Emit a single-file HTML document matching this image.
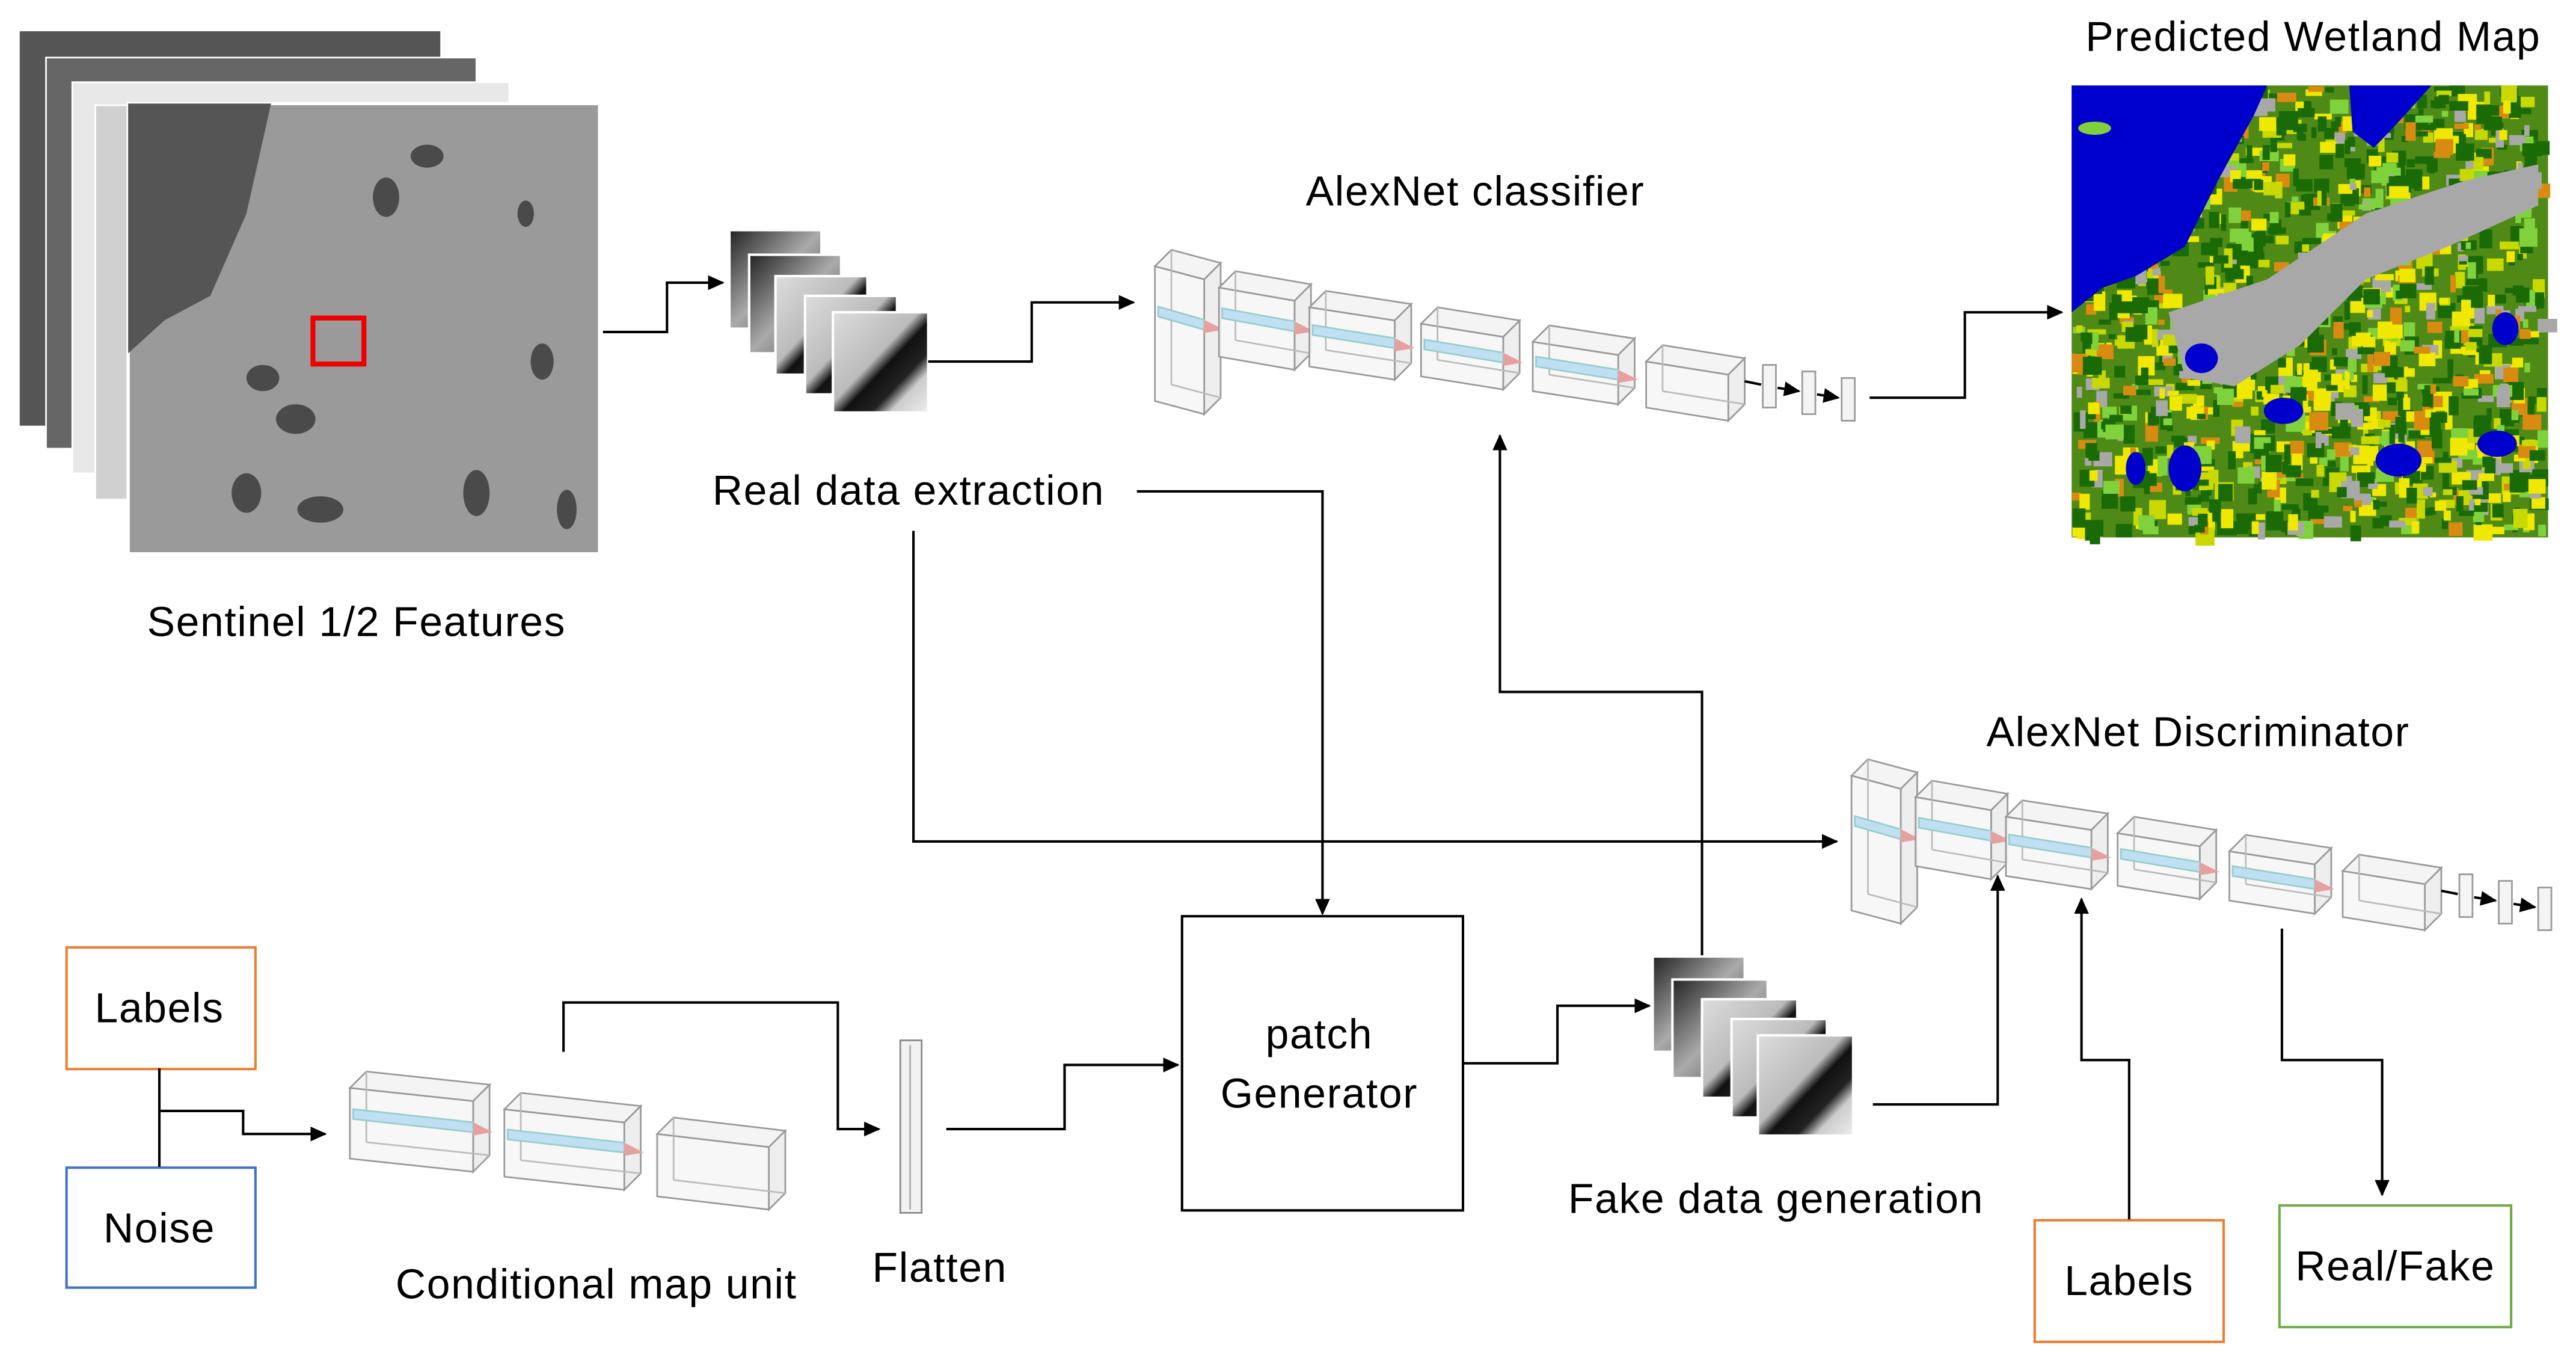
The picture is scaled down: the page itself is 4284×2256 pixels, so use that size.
<!DOCTYPE html>
<html><head><meta charset="utf-8"><style>
html,body{margin:0;padding:0;background:#fff}
svg{display:block}
text{font-family:"Liberation Sans",sans-serif;fill:#000;font-size:25.5px;letter-spacing:0.6px}
</style></head><body>
<svg id="s" width="4284" height="2256" viewBox="0 0 1568 825.7" xmlns="http://www.w3.org/2000/svg">
<defs>
<marker id="a" markerWidth="10" markerHeight="10" refX="9" refY="5" orient="auto" markerUnits="userSpaceOnUse"><path d="M0,0.5 L10,5 L0,9.5 z" fill="#000"/></marker>
<linearGradient id="p1" x1="0" y1="0" x2="1" y2="1"><stop offset="0" stop-color="#222"/><stop offset="0.5" stop-color="#aaa"/><stop offset="1" stop-color="#444"/></linearGradient>
<linearGradient id="p2" x1="0" y1="0" x2="1" y2="1"><stop offset="0" stop-color="#ddd"/><stop offset="0.45" stop-color="#bbb"/><stop offset="0.55" stop-color="#111"/><stop offset="0.7" stop-color="#222"/><stop offset="0.8" stop-color="#ccc"/><stop offset="1" stop-color="#eee"/></linearGradient>
</defs>
<rect x="12" y="19" width="256" height="240" fill="#555"/>
<rect x="28" y="35" width="262" height="238" fill="#666" stroke="#fff" stroke-width="1"/>
<rect x="44" y="50" width="266" height="238" fill="#e8e8e8" stroke="#fff"/>
<rect x="58" y="64" width="268" height="240" fill="#d0d0d0" stroke="#fff"/>
<rect x="78" y="63" width="287" height="274" fill="#9a9a9a" stroke="#fff" stroke-width="2"/>
<path d="M78,63 L165,63 L150,130 L128,180 L100,195 L78,215 z" fill="#555"/>
<g fill="#4a4a4a"><ellipse cx="160" cy="230" rx="10" ry="8"/><ellipse cx="180" cy="255" rx="12" ry="9"/><ellipse cx="150" cy="300" rx="9" ry="12"/><ellipse cx="195" cy="310" rx="14" ry="8"/><ellipse cx="290" cy="300" rx="8" ry="14"/><ellipse cx="330" cy="220" rx="7" ry="11"/><ellipse cx="235" cy="120" rx="8" ry="12"/><ellipse cx="260" cy="95" rx="10" ry="7"/><ellipse cx="320" cy="130" rx="5" ry="8"/><ellipse cx="345" cy="310" rx="6" ry="12"/></g>
<rect x="190.5" y="193.5" width="31" height="28" fill="none" stroke="#e00" stroke-width="3"/>
<text x="217" y="387" text-anchor="middle">Sentinel 1/2 Features</text>
<polyline points="367,202 406,202 406,172 440,172" fill="none" stroke="#000" stroke-width="1.5" marker-end="url(#a)"/>
<g stroke="#fff" stroke-width="1.5">
<rect x="444" y="140" width="56" height="60" fill="url(#p1)"/>
<rect x="456" y="155" width="56" height="60" fill="url(#p1)"/>
<rect x="472" y="168" width="56" height="60" fill="url(#p2)"/>
<rect x="490" y="180" width="56" height="60" fill="url(#p2)"/>
<rect x="507" y="190" width="58" height="61" fill="url(#p2)"/>
</g>
<polyline points="565,220 628,220 628,184 690,184" fill="none" stroke="#000" stroke-width="1.5" marker-end="url(#a)"/>
<text x="898" y="125" text-anchor="middle">AlexNet classifier</text>
<g id="cls"></g>
<polyline points="1138,242 1196,242 1196,190 1255,190" fill="none" stroke="#000" stroke-width="1.5" marker-end="url(#a)"/>
<text x="1408" y="31" text-anchor="middle">Predicted Wetland Map</text>
<g id="map"></g>
<text x="553" y="307" text-anchor="middle">Real data extraction</text>
<polyline points="692,299 805,299 805,556" fill="none" stroke="#000" stroke-width="1.5" marker-end="url(#a)"/>
<polyline points="556,323 556,512 1118,512" fill="none" stroke="#000" stroke-width="1.5" marker-end="url(#a)"/>
<polyline points="1036,590 1036,421 913,421 913,265" fill="none" stroke="#000" stroke-width="1.5" marker-end="url(#a)"/>
<text x="1338" y="454" text-anchor="middle">AlexNet Discriminator</text>
<g id="dis"></g>
<rect x="719.5" y="557.5" width="171" height="179" fill="#fff" stroke="#000" stroke-width="1.5"/>
<text x="803" y="638" text-anchor="middle">patch</text>
<text x="803" y="674" text-anchor="middle">Generator</text>
<polyline points="890,647 948,647 948,612 1004,612" fill="none" stroke="#000" stroke-width="1.5" marker-end="url(#a)"/>
<g stroke="#fff" stroke-width="1.5">
<rect x="1006" y="582" width="56" height="58" fill="url(#p1)"/>
<rect x="1018" y="596" width="58" height="60" fill="url(#p1)"/>
<rect x="1036" y="608" width="58" height="60" fill="url(#p2)"/>
<rect x="1054" y="620" width="58" height="60" fill="url(#p2)"/>
<rect x="1070" y="630" width="58" height="61" fill="url(#p2)"/>
</g>
<text x="1081" y="738" text-anchor="middle">Fake data generation</text>
<polyline points="1140,672 1216,672 1216,533" fill="none" stroke="#000" stroke-width="1.5" marker-end="url(#a)"/>
<rect x="1238.5" y="742.5" width="115" height="74" fill="#fff" stroke="#ed7d31" stroke-width="1.5"/>
<text x="1296" y="788" text-anchor="middle">Labels</text>
<polyline points="1296,742 1296,645 1267,645 1267,547" fill="none" stroke="#000" stroke-width="1.5" marker-end="url(#a)"/>
<polyline points="1389,565 1389,645 1450,645 1450,727" fill="none" stroke="#000" stroke-width="1.5" marker-end="url(#a)"/>
<rect x="1387.5" y="733.5" width="141" height="74" fill="#fff" stroke="#70ad47" stroke-width="1.5"/>
<text x="1458" y="779" text-anchor="middle">Real/Fake</text>
<rect x="40.5" y="576.5" width="115" height="74" fill="#fff" stroke="#ed7d31" stroke-width="1.5"/>
<text x="97" y="622" text-anchor="middle">Labels</text>
<rect x="40.5" y="710.5" width="115" height="73" fill="#fff" stroke="#4472c4" stroke-width="1.5"/>
<text x="97" y="756" text-anchor="middle">Noise</text>
<line x1="97" y1="650" x2="97" y2="710" stroke="#000" stroke-width="1.5"/>
<polyline points="97,676 148,676 148,690 198,690" fill="none" stroke="#000" stroke-width="1.5" marker-end="url(#a)"/>
<g id="cmu"></g>
<text x="363" y="790" text-anchor="middle">Conditional map unit</text>
<polyline points="343,640 343,610 510,610 510,687 535,687" fill="none" stroke="#000" stroke-width="1.5" marker-end="url(#a)"/>
<rect x="548" y="633" width="13" height="105" fill="#f2f2f2" stroke="#888" stroke-width="1"/>
<line x1="554" y1="636" x2="554" y2="736" stroke="#aaa"/>
<text x="572" y="780" text-anchor="middle">Flatten</text>
<polyline points="576,687 648,687 648,648 717,648" fill="none" stroke="#000" stroke-width="1.5" marker-end="url(#a)"/>
</svg>
<script>
var NS="http://www.w3.org/2000/svg";
function el(p,t,a){var e=document.createElementNS(NS,t);for(var k in a)e.setAttribute(k,a[k]);p.appendChild(e);return e;}
function box(g,x,y,w,h,blue){
 var d=10,s=8;
 el(g,'polygon',{points:[x+d,y,x+w+d,y+s,x+w,y+s+d,x,y+d].join(','),fill:'#f4f4f4',stroke:'#999','stroke-width':1});
 el(g,'polygon',{points:[x+w+d,y+s,x+w+d,y+s+h,x+w,y+s+h+d,x+w,y+s+d].join(','),fill:'#eee',stroke:'#999','stroke-width':1});
 el(g,'polygon',{points:[x,y+d,x+w,y+s+d,x+w,y+s+d+h,x,y+d+h].join(','),fill:'#f6f6f6','fill-opacity':0.9,stroke:'#999','stroke-width':1});
 el(g,'line',{x1:x+d,y1:y,x2:x+d,y2:y+h,stroke:'#bbb'});
 el(g,'line',{x1:x+d,y1:y+h,x2:x+w+d,y2:y+s+h,stroke:'#bbb'});
 if(blue){var by=y+d+h*0.3;
  el(g,'polygon',{points:[x+2,by,x+w,by+s,x+w,by+s+6,x+2,by+6].join(','),fill:'#bfe0f2',stroke:'#9cc'});
  el(g,'polygon',{points:[x+w,by+s,x+w+12,by+s+6,x+w,by+s+8].join(','),fill:'#e7a0a0'});}
}
function net(id,ox,oy){
 var g=document.getElementById(id);
 var B=[[703,152,30,82,1],[742,165,46,42,1],[797,177,52,36,1],[865,187,50,32,1],[933,198,52,30,1],[1002,210,50,28,0]];
 B.forEach(function(b){box(g,b[0]+ox,b[1]+oy,b[2],b[3],b[4]);});
 [1073,1097,1121].forEach(function(x,i){var y=222+i*4+oy;
  el(g,'rect',{x:x+ox,y:y,width:8,height:26,fill:'#f4f4f4',stroke:'#999'});
  if(i<2) el(g,'line',{x1:x+ox+9,y1:y+14,x2:x+ox+22,y2:y+16,stroke:'#000','stroke-width':1.5,'marker-end':'url(#a)'});});
 el(g,'line',{x1:1062+ox,y1:232+oy,x2:1072+ox,y2:234+oy,stroke:'#000','stroke-width':1.5});
}
net('cls',0,0);net('dis',424,310);
var c=document.getElementById('cmu');
box(c,213,652,75,43,1);box(c,307,665,73,41,1);box(c,400,680,68,38,0);
var m=document.getElementById('map');
el(m,'rect',{x:1261,y:52,width:290,height:275,fill:'#4f8a17'});
var seed=7;function r(){seed=(seed*16807)%2147483647;return seed/2147483647;}
var cols=['#1a6b06','#1a6b06','#1a6b06','#f0e800','#f0e800','#7fd23c','#a8a8a8','#d98a10','#1a6b06','#c8d800'];
for(var i=0;i<1400;i++){var x=1261+r()*284,y=52+r()*269;
 el(m,'rect',{x:x,y:y,width:3+r()*9,height:3+r()*9,fill:cols[Math.floor(r()*cols.length)]});}
el(m,'path',{d:'M1261,52 L1380,52 L1372,70 L1350,110 L1330,150 L1300,168 L1280,175 L1261,190 z',fill:'#0000cc'});
el(m,'path',{d:'M1430,52 L1480,52 L1462,72 L1445,90 L1432,80 z',fill:'#0000cc'});
el(m,'path',{d:'M1320,190 L1380,170 L1440,130 L1500,110 L1545,100 L1545,125 L1490,150 L1440,170 L1400,210 L1360,235 L1330,230 z',fill:'#a8a8a8'});
[[1340,218,10,9],[1390,250,12,8],[1460,280,14,10],[1330,285,10,14],[1520,270,12,8],[1300,285,6,10],[1525,200,8,10]].forEach(function(e){el(m,'ellipse',{cx:e[0],cy:e[1],rx:e[2],ry:e[3],fill:'#0000cc'});});
el(m,'ellipse',{cx:1275,cy:78,rx:10,ry:4,fill:'#7fd23c'});
</script>
</body></html>
